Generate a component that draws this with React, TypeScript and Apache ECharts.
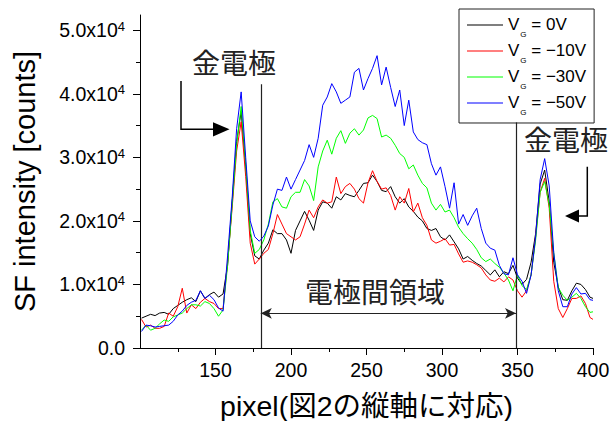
import React, { useEffect, useRef } from "react";
import * as echarts from "echarts";

const pixels = [
  101, 104, 107, 110, 113, 116, 119, 122, 125, 128,
  131, 134, 137, 140, 143, 146, 149, 152, 155, 158,
  161, 164, 167, 170, 173, 176, 179, 182, 185, 188,
  191, 194, 197, 200, 203, 206, 209, 212, 215, 218,
  221, 224, 227, 230, 233, 236, 239, 242, 245, 248,
  251, 254, 257, 260, 263, 266, 269, 272, 275, 278,
  281, 284, 287, 290, 293, 296, 299, 302, 305, 308,
  311, 314, 317, 320, 323, 326, 329, 332, 335, 338,
  341, 344, 347, 350, 353, 356, 359, 362, 365, 368,
  371, 374, 377, 380, 383, 386, 389, 392, 395, 398,
  400,
];

// intensity in units of 10^4 counts
const vg0 = [
  0.47, 0.5, 0.53, 0.51, 0.55, 0.56, 0.53, 0.62, 0.67, 0.72,
  0.76, 0.79, 0.73, 0.9, 0.78, 0.84, 0.88, 0.8, 0.85, 1.3,
  2.3, 3.25, 3.72, 2.85, 1.8, 1.45, 1.4, 1.54, 1.65, 1.86,
  1.8, 1.8, 1.7, 1.49, 1.85, 2.0, 2.15, 2.01, 1.85, 2.17,
  2.3, 2.28, 2.2, 2.38, 2.33, 2.43, 2.4, 2.38, 2.48, 2.59,
  2.6, 2.72, 2.62, 2.48, 2.46, 2.54, 2.38, 2.28, 2.35, 2.22,
  2.15, 2.06, 2.0, 1.88, 1.85, 1.88, 1.75, 1.7, 1.78, 1.67,
  1.56, 1.4, 1.44, 1.38, 1.33, 1.29, 1.22, 1.15, 1.23, 1.12,
  1.2, 1.17, 1.3, 1.1, 1.0, 1.08, 1.35, 1.8, 2.58, 2.8,
  2.3, 1.35, 0.96, 0.76, 0.75, 0.9, 1.02, 1.0, 0.92, 0.8,
  0.78,
];

const vg10 = [
  0.45, 0.33, 0.36, 0.31, 0.31, 0.34, 0.55, 0.5, 0.65, 0.94,
  0.55, 0.68, 0.62, 0.72, 0.78, 0.73, 0.7, 0.62, 0.62, 1.35,
  2.2, 3.1, 3.56, 2.7, 1.65, 1.32, 1.4, 1.49, 1.55, 1.8,
  2.1, 1.95, 1.8, 1.75, 1.7, 1.75, 1.95, 2.17, 2.05, 2.22,
  2.33, 2.28, 2.3, 2.69, 2.43, 2.54, 2.59, 2.5, 2.35, 2.28,
  2.6, 2.79, 2.62, 2.5, 2.52, 2.4, 2.17, 2.38, 2.28, 2.51,
  2.14, 2.28, 2.05, 1.93, 1.7, 1.65, 1.68, 1.72, 1.62, 1.63,
  1.48, 1.35, 1.37, 1.35, 1.31, 1.26, 1.15, 1.07, 1.05, 1.1,
  1.04, 1.12, 1.07, 0.9, 0.8, 0.9, 1.15, 1.75, 2.45, 2.67,
  2.2, 1.05, 0.62, 0.48, 0.62, 0.78, 0.78, 0.82, 0.7, 0.48,
  0.45,
];

const vg30 = [
  0.28, 0.36, 0.28, 0.31, 0.38, 0.44, 0.42, 0.49, 0.52, 0.55,
  0.62, 0.68, 0.68, 0.66, 0.73, 0.7, 0.62, 0.5, 0.6, 1.3,
  2.25, 3.2, 3.8, 2.9, 1.85, 1.49, 1.55, 1.7, 1.95, 2.3,
  2.35, 2.22, 2.2, 2.38, 2.45, 2.45, 2.65, 2.55, 2.32, 2.85,
  3.1, 3.27, 3.05, 3.3, 3.42, 3.22, 3.38, 3.45, 3.35, 3.43,
  3.62, 3.66, 3.61, 3.32, 3.35, 3.3, 3.19, 3.06, 3.0, 2.82,
  2.88, 2.72, 2.59, 2.52, 2.28, 2.17, 2.26, 2.14, 2.17, 2.05,
  1.9, 1.8, 1.72, 1.65, 1.55, 1.42, 1.36, 1.4, 1.33, 1.27,
  1.18, 1.07, 0.9, 1.15, 0.98, 0.92, 1.15, 1.7, 2.45, 2.62,
  2.25, 1.5, 0.95, 0.83, 0.75, 0.8, 0.86, 0.78, 0.65, 0.56,
  0.57,
];

const vg50 = [
  0.26, 0.36, 0.35, 0.33, 0.34, 0.35, 0.36, 0.42, 0.52, 0.58,
  0.67, 0.72, 0.75, 0.9, 0.78, 0.83, 0.76, 0.63, 0.58, 1.45,
  2.35, 3.45, 4.03, 3.0, 2.0, 1.75, 1.68, 1.76, 1.92, 2.25,
  2.5, 2.48, 2.69, 2.5, 2.65, 2.8, 2.95, 3.2, 3.0, 3.3,
  3.82, 3.95, 4.16, 4.03, 3.85, 3.9, 3.95, 4.34, 4.4, 4.06,
  4.24, 4.4, 4.6, 4.14, 4.42, 4.1, 3.8, 4.06, 3.5, 3.9,
  3.4, 3.28, 3.23, 3.2, 2.9, 2.72, 2.85, 2.54, 2.2, 2.6,
  1.95, 2.1, 1.93, 2.08, 2.2, 1.88, 1.65, 1.57, 1.54, 1.3,
  1.17, 1.15, 1.42, 1.15, 1.05, 0.86, 1.15, 1.75, 2.65, 2.98,
  2.55, 1.5, 0.9, 0.65, 0.65, 0.85, 0.95, 0.85, 0.86, 0.76,
  0.75,
];

const seriesNames = ["0V", "\u221210V", "\u221230V", "\u221250V"];
const seriesColors = ["#000000", "#ff0000", "#00ff00", "#0000ff"];
const seriesValues = [vg0, vg10, vg30, vg50];

const xMajorTicks = [150, 200, 250, 300, 350, 400];
const xMinorTicks = [125, 175, 225, 275, 325, 375];
const yMajorTicks = [0, 1, 2, 3, 4, 5];
const yMinorTicks = [0.5, 1.5, 2.5, 3.5, 4.5];

// electrode edges (pixel) and annotation line heights (10^4 counts)
const electrodeEdges = [180, 349];
const edgeLineTops = [4.15, 3.55];
const regionArrowLevel = 0.545;

const FONT = '"Liberation Sans", Arial, "Noto Sans CJK JP", sans-serif';
const CJK = '"Noto Sans CJK JP", "Liberation Sans", sans-serif';

export default function App() {
  const ref = useRef<HTMLDivElement>(null);

  useEffect(() => {
    if (!ref.current) return;
    const chart = echarts.init(ref.current, undefined, { renderer: "svg" });

    const series: any[] = seriesNames.map((name, si) => ({
      name,
      type: "line",
      symbol: "none",
      xAxisIndex: 0,
      yAxisIndex: 0,
      data: pixels.map((p, i) => [p, seriesValues[si][i]]),
      lineStyle: { color: seriesColors[si], width: 1 },
      itemStyle: { color: seriesColors[si] },
      emphasis: { disabled: true },
      z: 2 + si,
    }));

    series[0].markLine = {
      silent: true,
      animation: false,
      symbol: ["none", "none"],
      label: { show: false },
      emphasis: { disabled: true },
      lineStyle: { color: "#222", width: 1.2, type: "solid" },
      data: [
        [
          { coord: [electrodeEdges[0], 0] },
          { coord: [electrodeEdges[0], edgeLineTops[0]] },
        ],
        [
          { coord: [electrodeEdges[1], 0] },
          { coord: [electrodeEdges[1], edgeLineTops[1]] },
        ],
        [
          { coord: [electrodeEdges[0], regionArrowLevel], symbol: "arrow", symbolSize: [8, 11] },
          { coord: [electrodeEdges[1], regionArrowLevel], symbol: "arrow", symbolSize: [8, 11] },
        ],
      ],
    };

    const axisLineStyle = { color: "#000", width: 1 };

    const option: any = {
      animation: false,
      textStyle: { fontFamily: FONT },
      grid: {
        left: 140,
        right: 18,
        top: 15,
        bottom: 73,
        containLabel: false,
        outerBoundsMode: "none",
      },
      legend: {
        orient: "vertical",
        left: 459,
        top: 9,
        padding: [2, 8, 6, 8],
        itemGap: -2,
        itemWidth: 36,
        itemHeight: 1,
        icon: "rect",
        borderColor: "#222",
        borderWidth: 1,
        backgroundColor: "#fff",
        data: seriesNames,
        formatter: (name: string) => `{v|V}{s|G}{t| = ${name}}`,
        textStyle: {
          color: "#000",
          fontFamily: FONT,
          rich: {
            v: { fontSize: 17, lineHeight: 20, fontFamily: FONT, color: "#000" },
            s: { fontSize: 8, lineHeight: 8, padding: [20, 0, 0, 1], fontFamily: FONT, color: "#000" },
            t: { fontSize: 17, lineHeight: 20, fontFamily: FONT, color: "#000" },
          },
        },
      },
      xAxis: [
        {
          type: "value",
          min: 100,
          max: 400,
          interval: 50,
          position: "bottom",
          axisLine: { show: true, lineStyle: axisLineStyle },
          axisTick: { show: true, length: 7, customValues: xMajorTicks, lineStyle: axisLineStyle },
          axisLabel: {
            customValues: xMajorTicks,
            fontSize: 19.5,
            color: "#000",
            margin: 12,
            fontFamily: FONT,
          },
          splitLine: { show: false },
          name: "pixel(図2の縦軸に対応)",
          nameLocation: "middle",
          nameGap: 44,
          nameTextStyle: { fontSize: 28.5, color: "#000", fontFamily: FONT },
        },
        {
          type: "value",
          min: 100,
          max: 400,
          interval: 50,
          position: "bottom",
          axisLine: { show: false },
          axisTick: { show: true, length: 4, customValues: xMinorTicks, lineStyle: axisLineStyle },
          axisLabel: { show: false },
          splitLine: { show: false },
        },
      ],
      yAxis: [
        {
          type: "value",
          min: 0,
          max: 5.24,
          interval: 1,
          position: "left",
          axisLine: { show: true, lineStyle: axisLineStyle },
          axisTick: { show: true, length: 7, customValues: yMajorTicks, lineStyle: axisLineStyle },
          axisLabel: {
            customValues: yMajorTicks,
            color: "#000",
            margin: 15,
            formatter: (v: number) =>
              v === 0 ? "{a|0.0}" : `{a|${v.toFixed(1)}x10}{b|4}`,
            rich: {
              a: { fontSize: 19.5, lineHeight: 21, color: "#000", fontFamily: FONT },
              b: { fontSize: 13, lineHeight: 13, padding: [0, 0, 8, 0], color: "#000", fontFamily: FONT },
            },
          },
          splitLine: { show: false },
          name: "SF intensity [counts]",
          nameLocation: "middle",
          nameGap: 101,
          nameTextStyle: { fontSize: 29, color: "#000", fontFamily: FONT },
        },
        {
          type: "value",
          min: 0,
          max: 5.24,
          interval: 1,
          position: "left",
          axisLine: { show: false },
          axisTick: { show: true, length: 4, customValues: yMinorTicks, lineStyle: axisLineStyle },
          axisLabel: { show: false },
          splitLine: { show: false },
        },
      ],
      series,
      graphic: [
        {
          type: "text",
          x: 234,
          y: 62,
          silent: true,
          style: {
            text: "金電極",
            fontSize: 28,
            fontFamily: CJK,
            fill: "#222",
            align: "center",
            verticalAlign: "middle",
            textAlign: "center",
            textVerticalAlign: "middle",
          },
        },
        {
          type: "text",
          x: 566,
          y: 139,
          silent: true,
          style: {
            text: "金電極",
            fontSize: 28,
            fontFamily: CJK,
            fill: "#222",
            align: "center",
            verticalAlign: "middle",
            textAlign: "center",
            textVerticalAlign: "middle",
          },
        },
        {
          type: "text",
          x: 375,
          y: 290.5,
          silent: true,
          style: {
            text: "電極間領域",
            fontSize: 28,
            fontFamily: CJK,
            fill: "#222",
            align: "center",
            verticalAlign: "middle",
            textAlign: "center",
            textVerticalAlign: "middle",
          },
        },
        {
          type: "polyline",
          silent: true,
          shape: { points: [[181, 81], [181, 129.3], [216, 129.3]] },
          style: { stroke: "#000", lineWidth: 1.5, fill: null },
        },
        {
          type: "polygon",
          silent: true,
          shape: { points: [[213, 122.3], [229.5, 129.3], [213, 136.5]] },
          style: { fill: "#000", stroke: "none" },
        },
        {
          type: "polyline",
          silent: true,
          shape: { points: [[587.3, 166.7], [587.3, 216], [576, 216]] },
          style: { stroke: "#000", lineWidth: 1.5, fill: null },
        },
        {
          type: "polygon",
          silent: true,
          shape: { points: [[579, 209.5], [565, 216], [579, 222.5]] },
          style: { fill: "#000", stroke: "none" },
        },
      ],
    };

    chart.setOption(option);
    return () => chart.dispose();
  }, []);

  return (
    <div
      ref={ref}
      style={{ position: "fixed", left: 0, top: 0, width: 611, height: 421, background: "#fff" }}
    />
  );
}
